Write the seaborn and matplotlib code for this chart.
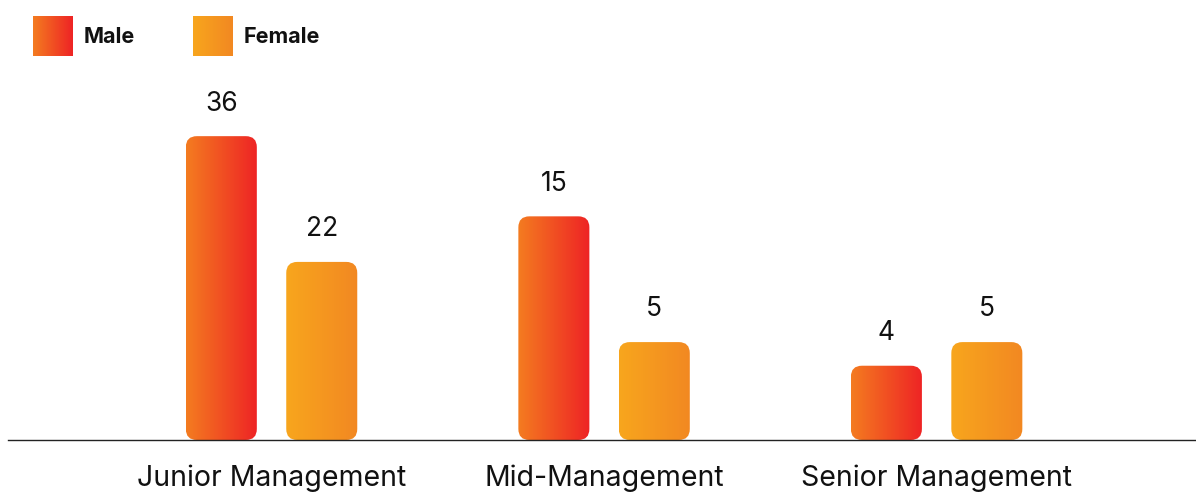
import numpy as np
import pandas as pd
import matplotlib
matplotlib.use("Agg")
import matplotlib.pyplot as plt
import seaborn as sns
from matplotlib.patches import FancyBboxPatch
from matplotlib.colors import LinearSegmentedColormap

# ---------------- data ----------------
categories = ["Junior Management", "Mid-Management", "Senior Management"]
genders = ["Male", "Female"]
male_values = [36, 15, 4]
female_values = [22, 5, 5]
# bar lengths as drawn in the reference infographic (it is not drawn to scale)
male_drawn = [36.0, 26.5, 8.8]
female_drawn = [21.1, 11.6, 11.6]
male_colors = ["#F47C20", "#EE2325"]
female_colors = ["#F8A61D", "#F28822"]

sns.set_theme(style="white")
plt.rcParams["font.family"] = ["Inter", "DejaVu Sans"]

df = pd.DataFrame({
    "category": categories * 2,
    "gender": ["Male"] * 3 + ["Female"] * 3,
    "drawn": male_drawn + female_drawn,
    "value": male_values + female_values,
})

W, H = 1196, 495
fig = plt.figure(figsize=(W / 100, H / 100), dpi=100)
ax_l, ax_b, ax_w, ax_h = 8 / W, 55 / H, 1 - 8 / W, 380 / H
ax = fig.add_axes([ax_l, ax_b, ax_w, ax_h])

cmaps = {
    "Male": LinearSegmentedColormap.from_list("m", male_colors),
    "Female": LinearSegmentedColormap.from_list("f", female_colors),
}

sns.barplot(data=df, x="category", y="drawn", hue="gender", order=categories,
            hue_order=genders, width=0.604, gap=0.293, ax=ax, legend=False,
            palette={"Male": male_colors[0], "Female": female_colors[0]})

xlim = (-0.7925, 2.78)
ylim = (0, 380 / 8.44)
ax.set_xlim(*xlim)
ax.set_ylim(*ylim)

xupp = (xlim[1] - xlim[0]) / (ax_w * W)
yupp = (ylim[1] - ylim[0]) / (ax_h * H)
r_px = 11
grad = np.linspace(0, 1, 256).reshape(1, -1)

for patch in list(ax.patches):
    x0, w, h = patch.get_x(), patch.get_width(), patch.get_height()
    if h <= 0:
        continue
    xc = x0 + w / 2
    gi = int(round(xc))
    gender = "Male" if xc < gi else "Female"
    row = df[(df.category == categories[gi]) & (df.gender == gender)].iloc[0]
    patch.set_visible(False)
    box = FancyBboxPatch((x0, 0), w, h,
                         boxstyle=f"round,pad=0,rounding_size={r_px * xupp}",
                         mutation_aspect=yupp / xupp, transform=ax.transData,
                         facecolor="none", edgecolor="none")
    ax.add_patch(box)
    im = ax.imshow(grad, extent=[x0, x0 + w, 0, h], aspect="auto",
                   cmap=cmaps[gender], origin="lower", zorder=2,
                   interpolation="bilinear")
    im.set_clip_path(box)
    ax.annotate(str(row["value"]), (xc, h), xytext=(0, 23.5),
                textcoords="offset points", ha="center", va="center",
                fontsize=19, color="#111111")

ax.set_xlim(*xlim)
ax.set_ylim(*ylim)
ax.set_xlabel("")
ax.set_ylabel("")
ax.set_yticks([])
ax.tick_params(axis="x", length=0, pad=17.5, labelsize=20.5, labelcolor="#111111")
for s in ["top", "right", "left"]:
    ax.spines[s].set_visible(False)
ax.spines["bottom"].set_color("#222222")
ax.spines["bottom"].set_linewidth(1.0)
ax.spines["bottom"].set_zorder(5)

# legend with gradient squares
leg_x = {"Male": 33, "Female": 193}
for g in genders:
    lx = leg_x[g]
    lax = fig.add_axes([lx / W, 1 - 56 / H, 40 / W, 40 / H])
    lax.imshow(grad, cmap=cmaps[g], aspect="auto", interpolation="bilinear")
    lax.axis("off")
    fig.text((lx + 51) / W, 1 - 37 / H, g, fontweight="bold", va="center",
             ha="left", fontsize=15.5, color="#111111")

fig.savefig("out.png", dpi=100)
